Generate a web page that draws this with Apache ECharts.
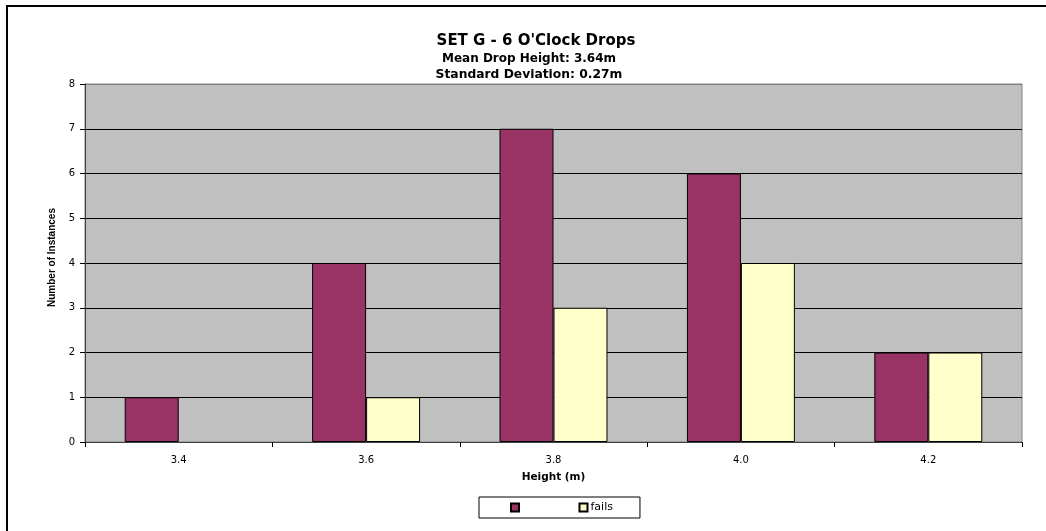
<!DOCTYPE html>
<html>
<head>
<meta charset="utf-8">
<script src="https://cdn.jsdelivr.net/npm/echarts@6/dist/echarts.min.js"></script>
<style>
  html, body { margin: 0; padding: 0; background: #fff; }
  #chart { width: 1046px; height: 531px; }
</style>
</head>
<body>
<div id="chart"></div>
<script>
// Drop heights (m) and counts per bin
const categories = ['3.4', '3.6', '3.8', '4.0', '4.2'];
const dropCounts = [1, 4, 7, 6, 2];
const failCounts = [0, 1, 3, 4, 2];
const titleLines = ["SET G - 6 O'Clock Drops", 'Mean Drop Height: 3.64m', 'Standard Deviation: 0.27m'];

const WIDE = '"DejaVu Sans", Verdana, sans-serif';
const NARROW = '"Liberation Sans", Arial, sans-serif';
const chart = echarts.init(document.getElementById('chart'), null, { renderer: 'canvas' });

// grid lines: black, except the top one which merges with the gray frame
const gridColors = ['#000', '#000', '#000', '#000', '#000', '#000', '#000', '#000', '#808080'];

// empty bins are left without a bar
const asBars = arr => arr.map(v => (v === 0 ? '-' : v));

chart.setOption({
  animation: false,
  backgroundColor: '#fff',
  textStyle: { fontFamily: WIDE },
  title: [
    { text: titleLines[0], left: 531, top: 29, textAlign: 'center',
      textStyle: { fontFamily: WIDE, fontSize: 15, fontWeight: 'bold', color: '#000' } },
    { text: titleLines[1], left: 524, top: 48, textAlign: 'center',
      textStyle: { fontFamily: WIDE, fontSize: 12, fontWeight: 'bold', color: '#000' } },
    { text: titleLines[2], left: 524, top: 64, textAlign: 'center',
      textStyle: { fontFamily: WIDE, fontSize: 12.3, fontWeight: 'bold', color: '#000' } }
  ],
  graphic: [
    { type: 'rect', shape: { x: 7, y: 6, width: 1100, height: 600 },
      style: { fill: 'none', stroke: '#000', lineWidth: 2 }, silent: true }
  ],
  legend: {
    left: 479, top: 497,
    padding: [5, 27, 5, 31],
    itemWidth: 8, itemHeight: 8, itemGap: 53,
    borderColor: '#000', borderWidth: 1,
    icon: 'rect',
    data: [' ', 'fails'],
    textStyle: { fontFamily: WIDE, fontSize: 11, color: '#000', padding: [0, 0, 0, -2] }
  },
  grid: {
    left: 85, right: 24, top: 84, bottom: 89,
    show: true, backgroundColor: '#C0C0C0', borderColor: '#808080', borderWidth: 1,
    containLabel: false
  },
  xAxis: {
    type: 'category',
    data: categories,
    name: 'Height (m)',
    nameLocation: 'middle',
    nameGap: 30,
    nameTextStyle: { fontFamily: WIDE, fontSize: 10.5, fontWeight: 'bold', color: '#000' },
    axisLine: { lineStyle: { color: '#404040', width: 1 } },
    axisTick: { show: true, length: 5, lineStyle: { color: '#000' } },
    axisLabel: { fontFamily: WIDE, fontSize: 10, color: '#000', margin: 13 },
    splitLine: { show: false }
  },
  yAxis: {
    type: 'value',
    min: 0, max: 8, interval: 1,
    name: 'Number of Instances',
    nameLocation: 'middle',
    nameRotate: 90,
    nameGap: 24.5,
    nameTextStyle: { fontFamily: NARROW, fontSize: 10, fontWeight: 'bold', color: '#000',
                     padding: [0, 0, 0, 11] },
    axisLine: { show: true, lineStyle: { color: '#404040', width: 1 } },
    axisTick: { show: true, length: 5, lineStyle: { color: '#000' } },
    axisLabel: { fontFamily: WIDE, fontSize: 10, color: '#000', margin: 10 },
    splitLine: { show: true, lineStyle: { color: gridColors, width: 1 } }
  },
  series: [
    {
      name: ' ', type: 'bar', data: asBars(dropCounts),
      barGap: '0%', barCategoryGap: '42.4%',
      itemStyle: { color: '#993366', borderColor: '#000', borderWidth: 1 }
    },
    {
      name: 'fails', type: 'bar', data: asBars(failCounts),
      itemStyle: { color: '#FFFFCC', borderColor: '#000', borderWidth: 1 }
    }
  ]
});
</script>
</body>
</html>
